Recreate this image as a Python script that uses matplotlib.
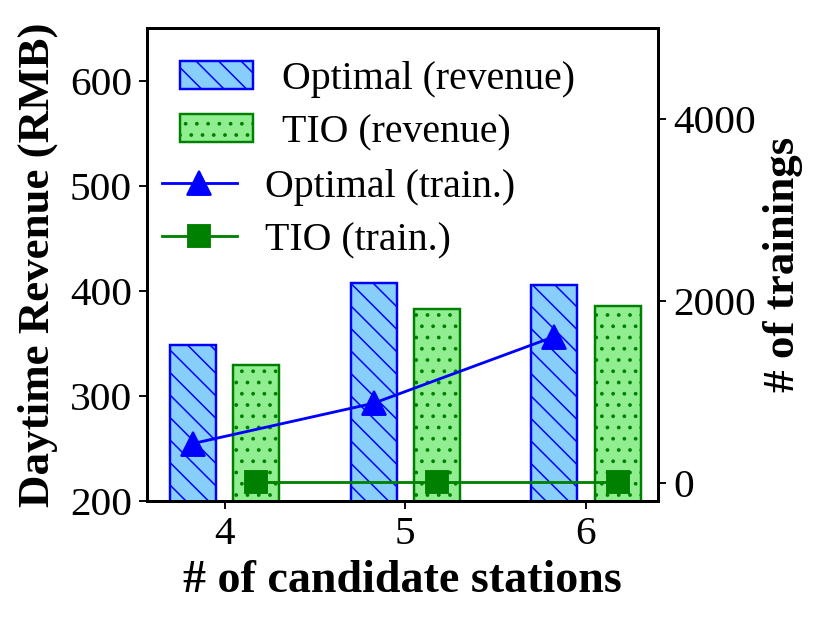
import matplotlib.pyplot as plt
import numpy as np

# data
stations = [4, 5, 6]
opt_revenue = [348, 407, 405]
tio_revenue = [329, 383, 385]
opt_train = [431, 874, 1607]
tio_train = [5, 5, 5]

DPI = 135
plt.rcParams['font.family'] = ['Liberation Serif', 'DejaVu Serif']
plt.rcParams['hatch.linewidth'] = 0.8

fig = plt.figure(figsize=(830 / DPI, 623 / DPI), dpi=DPI)
ax = fig.add_axes([0.177, 0.196, 0.616, 0.759])
ax2 = ax.twinx()

x = np.array(stations, dtype=float)
w = 0.255
off = 0.175

b1 = ax.bar(x - off, opt_revenue, w, color='#87CEFA', edgecolor='blue',
            hatch='\\\\', linewidth=1.3, label='Optimal (revenue)')
b2 = ax.bar(x + off, tio_revenue, w, color='#90EE90', edgecolor='green',
            hatch='..', linewidth=1.3, label='TIO (revenue)')

l1, = ax2.plot(x - off, opt_train, color='blue', marker='^', markersize=12.3,
               linewidth=1.5, label='Optimal (train.)')
l2, = ax2.plot(x + off, tio_train, color='green', marker='s', markersize=12,
               linewidth=1.5, label='TIO (train.)')

ax.set_xlim(3.57, 6.4)
ax.set_ylim(200, 650)
ax2.set_ylim(-200, 5000)
ax.set_xticks(stations)
ax.set_yticks([200, 300, 400, 500, 600])
ax2.set_yticks([0, 2000, 4000])

for a in (ax, ax2):
    for s in a.spines.values():
        s.set_linewidth(1.6)
    a.tick_params(labelsize=22, width=1.0, length=4.5)

ax.set_xlabel('# of candidate stations', fontsize=24.5, fontweight='bold', labelpad=4)
ax.set_ylabel('Daytime Revenue (RMB)', fontsize=24, fontweight='bold', labelpad=6)
ax2.set_ylabel('# of trainings', fontsize=24, fontweight='bold', labelpad=4)

ax.legend(handles=[b1, b2], loc='upper left', bbox_to_anchor=(0.0646, 0.930),
          frameon=False, fontsize=21.3, handlelength=1.83, handletextpad=0.73,
          labelspacing=0.4, borderpad=0, borderaxespad=0)
ax2.legend(handles=[l1, l2], loc='upper left', bbox_to_anchor=(0.029, 0.702),
           frameon=False, fontsize=21.3, handlelength=1.88, handletextpad=0.7,
           labelspacing=0.4, borderpad=0, borderaxespad=0)

fig.savefig('out.png', dpi=DPI)
